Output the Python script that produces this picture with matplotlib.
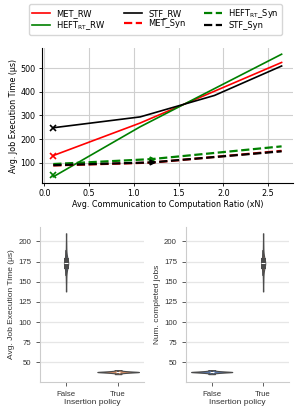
import numpy as np
import pandas as pd
import matplotlib
matplotlib.use("Agg")
import matplotlib.pyplot as plt
import seaborn as sns

# ---------------- data ----------------
ccr_rw = [0.1, 1.07, 1.9, 2.65]
ccr_syn = [0.1, 1.2, 2.65]
met_rw = [130, 268, 403, 525]
stf_rw = [248, 294, 385, 510]
heft_rw = [40, 252, 414, 560]
met_syn = [88, 100, 150]
heft_syn = [94, 115, 169]
stf_syn = [89, 101, 148]
# highlighted points
rw_mark_x = [0.1, 0.1, 0.1]
rw_mark_y = [130, 248, 48]
syn_mark_x = [1.2, 1.2]
syn_mark_y = [115, 101]

policies = ["False", "True"]
exec_false = [138, 150, 158, 164, 167, 169, 170, 171, 172, 173, 173, 174, 174, 175, 176, 177, 179, 182, 188, 197, 210]
exec_true = [35.5, 36.8, 37.3, 37.6, 37.8, 38.0, 38.1, 38.2, 38.3, 38.5, 38.7, 39.0, 39.5, 40.5]
jobs_false = [35.5, 36.8, 37.3, 37.6, 37.8, 38.0, 38.1, 38.2, 38.3, 38.5, 38.7, 39.0, 39.5, 40.5]
jobs_true = [138, 150, 158, 164, 167, 169, 170, 171, 172, 173, 173, 174, 174, 175, 176, 177, 179, 182, 188, 197, 210]

fig = plt.figure(figsize=(2.99, 4.11), dpi=100)

# ---------------- top line chart ----------------
ax = fig.add_axes([0.140, 0.555, 0.840, 0.328])
fs = 5.8
lfs = 6.0
ax.plot(ccr_rw, met_rw, color="red", lw=1.2, label="MET_RW")
ax.plot(ccr_rw, heft_rw, color="green", lw=1.2, label="HEFT$_{\\mathrm{RT}}$_RW")
ax.plot(ccr_rw, stf_rw, color="black", lw=1.2, label="STF_RW")
ax.plot(ccr_syn, met_syn, color="red", lw=1.6, ls="--", label="MET_Syn")
ax.plot(ccr_syn, heft_syn, color="green", lw=1.6, ls="--", label="HEFT$_{\\mathrm{RT}}$_Syn")
ax.plot(ccr_syn, stf_syn, color="black", lw=1.6, ls="--", label="STF_Syn")
for xx, yy, c in zip(rw_mark_x, rw_mark_y, ["red", "black", "green"]):
    ax.plot([xx], [yy], ls="none", marker="x", color=c, ms=4, mew=1.2)
for xx, yy, c in zip(syn_mark_x, syn_mark_y, ["green", "black"]):
    ax.plot([xx], [yy], ls="none", marker=">", color=c, ms=3.5)
ax.grid(True, color="#cfcfcf", lw=0.8)
ax.set_axisbelow(True)
for s in ["top", "right"]:
    ax.spines[s].set_visible(False)
ax.tick_params(labelsize=fs, length=2.5, width=0.6, pad=2)
ax.set_xticks([0.0, 0.5, 1.0, 1.5, 2.0, 2.5])
ax.set_yticks([100, 200, 300, 400, 500])
ax.set_xlabel("Avg. Communication to Computation Ratio (xN)", fontsize=fs, labelpad=1.5)
ax.set_ylabel("Avg. Job Execution Time (μs)", fontsize=fs, labelpad=2)
ax.legend(ncol=3, fontsize=lfs, loc="upper center", bbox_to_anchor=(0.52, 1.0),
          bbox_transform=fig.transFigure,
          frameon=True, handlelength=2.1, columnspacing=2.2, borderpad=0.35,
          labelspacing=0.15, handletextpad=0.8)

# ---------------- bottom violins ----------------
pal = sns.color_palette("deep")[:2]
bfam = "Liberation Sans"
bfs = 6.0

def violin(axv, a, b, ylabel):
    df = pd.DataFrame({"policy": [policies[0]] * len(a) + [policies[1]] * len(b),
                       "val": list(a) + list(b)})
    sns.violinplot(data=df, x="policy", y="val", hue="policy", order=policies,
                   hue_order=policies, palette=pal, legend=False, ax=axv,
                   cut=0, bw_adjust=0.6, linewidth=0.8, common_norm=True)
    axv.set_ylim(26, 218)
    axv.set_yticks([50, 75, 100, 125, 150, 175, 200])
    axv.grid(True, axis="y", color="#e6e6e6", lw=0.9)
    axv.set_axisbelow(True)
    for s in ["top", "right"]:
        axv.spines[s].set_visible(False)
    for s in ["left", "bottom"]:
        axv.spines[s].set_color("#cccccc")
        axv.spines[s].set_linewidth(0.8)
    axv.tick_params(length=3, width=0.6, color="#444444", labelsize=bfs - 0.4,
                    labelcolor="#333333")
    for t in axv.get_xticklabels() + axv.get_yticklabels():
        t.set_fontfamily(bfam)
    axv.set_xlabel("Insertion policy", fontsize=bfs, family=bfam, color="#333333", labelpad=1)
    axv.set_ylabel(ylabel, fontsize=bfs, family=bfam, color="#333333", labelpad=2)
    axv.set_facecolor("white")

ax1 = fig.add_axes([0.134, 0.071, 0.348, 0.377])
violin(ax1, exec_false, exec_true, "Avg. Job Execution Time (μs)")
ax2 = fig.add_axes([0.622, 0.071, 0.344, 0.377])
violin(ax2, jobs_false, jobs_true, "Num. completed jobs")

fig.savefig("out.png", dpi=100)
